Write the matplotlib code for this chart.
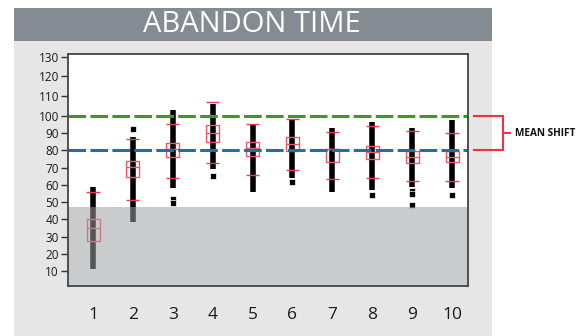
import numpy as np
import matplotlib
matplotlib.use("Agg")
import matplotlib.pyplot as plt
from matplotlib.patches import Rectangle
import matplotlib.transforms as mtransforms

plt.rcParams['font.family'] = ['Open Sans', 'DejaVu Sans']
plt.rcParams['lines.scale_dashes'] = False

# ---- data -------------------------------------------------------------
groups = [1, 2, 3, 4, 5, 6, 7, 8, 9, 10]
range_low = [11.3, 38.7, 58.0, 69.2, 55.7, 64.1, 56.0, 56.9, 58.9, 58.0]
range_high = [58.8, 87.5, 102.9, 105.9, 94.6, 98.1, 93.1, 96.2, 93.1, 97.5]
whisker_low = [np.nan, 51.1, 64.0, 72.5, 65.9, 68.8, 63.2, 64.1, 62.0, 62.4]
whisker_high = [56.0, 86.5, 95.4, 106.8, 95.2, 98.1, 90.4, 94.2, 91.3, 89.8]
q1 = [27.7, 64.7, 76.1, 85.0, 76.9, 79.8, 73.0, 74.8, 72.5, 73.0]
median = [35.2, 70.5, 80.6, 89.8, 81.1, 83.5, 80.5, 78.8, 76.0, 76.4]
q3 = [40.3, 74.0, 84.0, 94.6, 84.6, 87.5, 80.7, 82.5, 79.6, 79.8]
outlier_group = [2, 3, 3, 4, 6, 8, 9, 9, 9, 10]
outlier_value = [92.1, 52.0, 49.5, 65.1, 61.5, 54.1, 56.5, 54.5, 48.4, 54.3]

target_level = 100
current_level = 80
floor_level = 47
y_ticks = [10, 20, 30, 40, 50, 60, 70, 80, 90, 100, 110, 120, 130]

title = "ABANDON TIME"
shift_label = "MEAN SHIFT"

# ---- figure frame -----------------------------------------------------
W, H = 578, 336
fig = plt.figure(figsize=(W / 100, H / 100), dpi=100)
fig.patch.set_facecolor('white')

fig.patches.append(Rectangle((14 / W, 0), (492 - 14) / W, (H - 41) / H,
                             transform=fig.transFigure, facecolor='#E6E6E6',
                             edgecolor='none', zorder=-10))
fig.patches.append(Rectangle((14 / W, (H - 41) / H), (492 - 14) / W, 33 / H,
                             transform=fig.transFigure, facecolor='#848B93',
                             edgecolor='none', zorder=-10))
fig.text(252 / W, (H - 25) / H, title, color='white', fontsize=21,
         ha='center', va='center')

ax = fig.add_axes([68 / W, (H - 286) / H, 400 / W, 232 / H])
ax.set_facecolor('white')

# upper part of the value axis is drawn slightly stretched
k = 1.1377


def fwd(v):
    v = np.asarray(v, dtype=float)
    return np.where(v <= 100, v, 100 + (v - 100) * k)


def inv(u):
    u = np.asarray(u, dtype=float)
    return np.where(u <= 100, u, 100 + (u - 100) / k)


ax.set_yscale('function', functions=(fwd, inv))
ax.set_ylim(1.5, 131.4)
ax.set_xlim(0.373, 10.401)

# ---- marks ------------------------------------------------------------
box_w = 0.326
cap_w = 0.33
red_cap = '#EE3A50'
red_box = '#F0566A'

ax.vlines(groups, range_low, range_high, color='black', lw=4.0,
          capstyle='butt', zorder=2)
ax.plot(outlier_group, outlier_value, 's', color='black', ms=3.8,
        mec='white', mew=0.5, zorder=2)

for g, lo, hi, a, m, b in zip(groups, whisker_low, whisker_high, q1, median, q3):
    ax.add_patch(Rectangle((g - box_w / 2, a), box_w, b - a, fill=False,
                           edgecolor=red_box, lw=1.0, zorder=3))
    ax.hlines(m, g - box_w / 2, g + box_w / 2, color=red_box, lw=1.0, zorder=3)
    ax.hlines([hi], g - cap_w / 2, g + cap_w / 2, color=red_cap, lw=1.0, zorder=3)
    if not np.isnan(lo):
        ax.hlines([lo], g - cap_w / 2, g + cap_w / 2, color=red_cap, lw=1.0,
                  zorder=3)

ax.axhline(target_level, color='#3A9A22', lw=2.2, ls=(0, (12.7, 3.1)), zorder=4)
ax.axhline(current_level, color='#1F70A3', lw=2.2, ls=(0, (12.7, 3.1)), zorder=4)

ax.axhspan(0, floor_level, facecolor=(0.62, 0.625, 0.635), alpha=0.54,
           edgecolor='none', zorder=5)

# ---- bracket marking the shift between the two levels -------------------
trans = mtransforms.blended_transform_factory(ax.transAxes, ax.transData)
bx0, bx1, bx2 = 1.015, 1.0875, 1.105
ax.plot([bx0, bx1, bx1, bx0], [target_level, target_level, current_level,
                               current_level],
        transform=trans, color='#F0343F', lw=1.5, clip_on=False,
        solid_joinstyle='miter')
mid = (target_level + current_level) / 2
ax.plot([bx1, bx2], [mid, mid], transform=trans, color='#F0343F', lw=1.5,
        clip_on=False)
ax.text(1.1175, mid, shift_label, transform=trans, fontsize=7.2,
        fontweight='bold', ha='left', va='center', color='#111111')

# ---- axes styling -----------------------------------------------------
ax.set_yticks(y_ticks)
ax.set_yticklabels([str(t) for t in y_ticks])
ax.yaxis.set_minor_locator(matplotlib.ticker.NullLocator())
ax.tick_params(axis='y', direction='out', length=5, width=1.0,
               color='#333333', labelsize=8.5, pad=1.5, labelcolor='#1a1a1a')
ax.set_xticks(groups)
ax.set_xticklabels([str(g) for g in groups])
ax.tick_params(axis='x', length=0, labelsize=12.5, pad=15,
               labelcolor='#1a1a1a')
for s in ax.spines.values():
    s.set_color('#444444')
    s.set_linewidth(1.3)
    s.set_zorder(10)

fig.savefig('out.png', dpi=100)
